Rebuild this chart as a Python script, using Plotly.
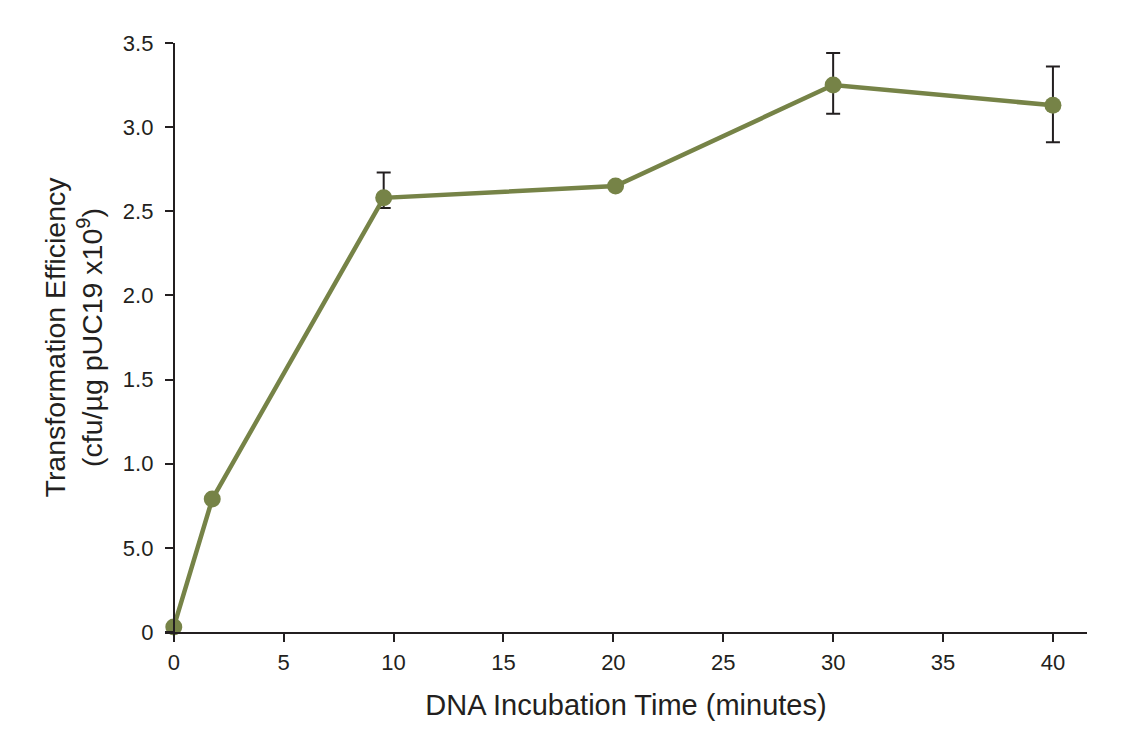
import plotly.graph_objects as go

# data
time_min = [0, 1.75, 9.55, 20.1, 30, 40]
efficiency = [0.03, 0.79, 2.58, 2.65, 3.25, 3.13]
err_plus = [0, 0, 0.15, 0, 0.19, 0.23]
err_minus = [0, 0, 0.06, 0, 0.17, 0.22]

y_tickvals = [0, 0.5, 1.0, 1.5, 2.0, 2.5, 3.0, 3.5]
y_ticktext = ["0", "5.0", "1.0", "1.5", "2.0", "2.5", "3.0", "3.5"]
x_tickvals = [0, 5, 10, 15, 20, 25, 30, 35, 40]

ink = "#231f20"
olive = "#768347"

x_range = [-0.4, 41.55]

fig = go.Figure()
fig.add_trace(go.Scatter(
    x=time_min,
    y=efficiency,
    mode="lines+markers",
    line=dict(color=olive, width=4.5),
    marker=dict(color=olive, size=17),
    error_y=dict(
        type="data",
        symmetric=False,
        array=err_plus,
        arrayminus=err_minus,
        color=ink,
        thickness=2,
        width=7,
    ),
    cliponaxis=False,
    showlegend=False,
))

fig.update_layout(
    width=1125,
    height=750,
    paper_bgcolor="white",
    plot_bgcolor="white",
    margin=dict(l=157, r=46, t=35, b=126),
    font=dict(family="Liberation Sans, Arial, sans-serif", color=ink, size=21),
    xaxis=dict(
        range=x_range,
        tickvals=x_tickvals,
        showline=True,
        linecolor=ink,
        linewidth=2,
        ticks="outside",
        ticklen=8,
        tickwidth=2,
        tickcolor=ink,
        ticklabelstandoff=2,
        showgrid=False,
        zeroline=False,
        tickfont=dict(size=22),
        title=dict(text="DNA Incubation Time (minutes)", font=dict(size=29), standoff=20),
    ),
    yaxis=dict(
        range=[0, 3.5],
        anchor="free",
        position=(0 - x_range[0]) / (x_range[1] - x_range[0]),
        tickvals=y_tickvals,
        ticktext=y_ticktext,
        showline=True,
        linecolor=ink,
        linewidth=2,
        ticks="outside",
        ticklen=8,
        tickwidth=2,
        tickcolor=ink,
        ticklabelstandoff=7,
        showgrid=False,
        zeroline=False,
        tickfont=dict(size=22),
        title=dict(
            text="Transformation Efficiency<br>(cfu/µg pUC19 x10<sup>9</sup>)",
            font=dict(size=28.5),
            standoff=11,
        ),
    ),
)

fig.write_html("out.html")
